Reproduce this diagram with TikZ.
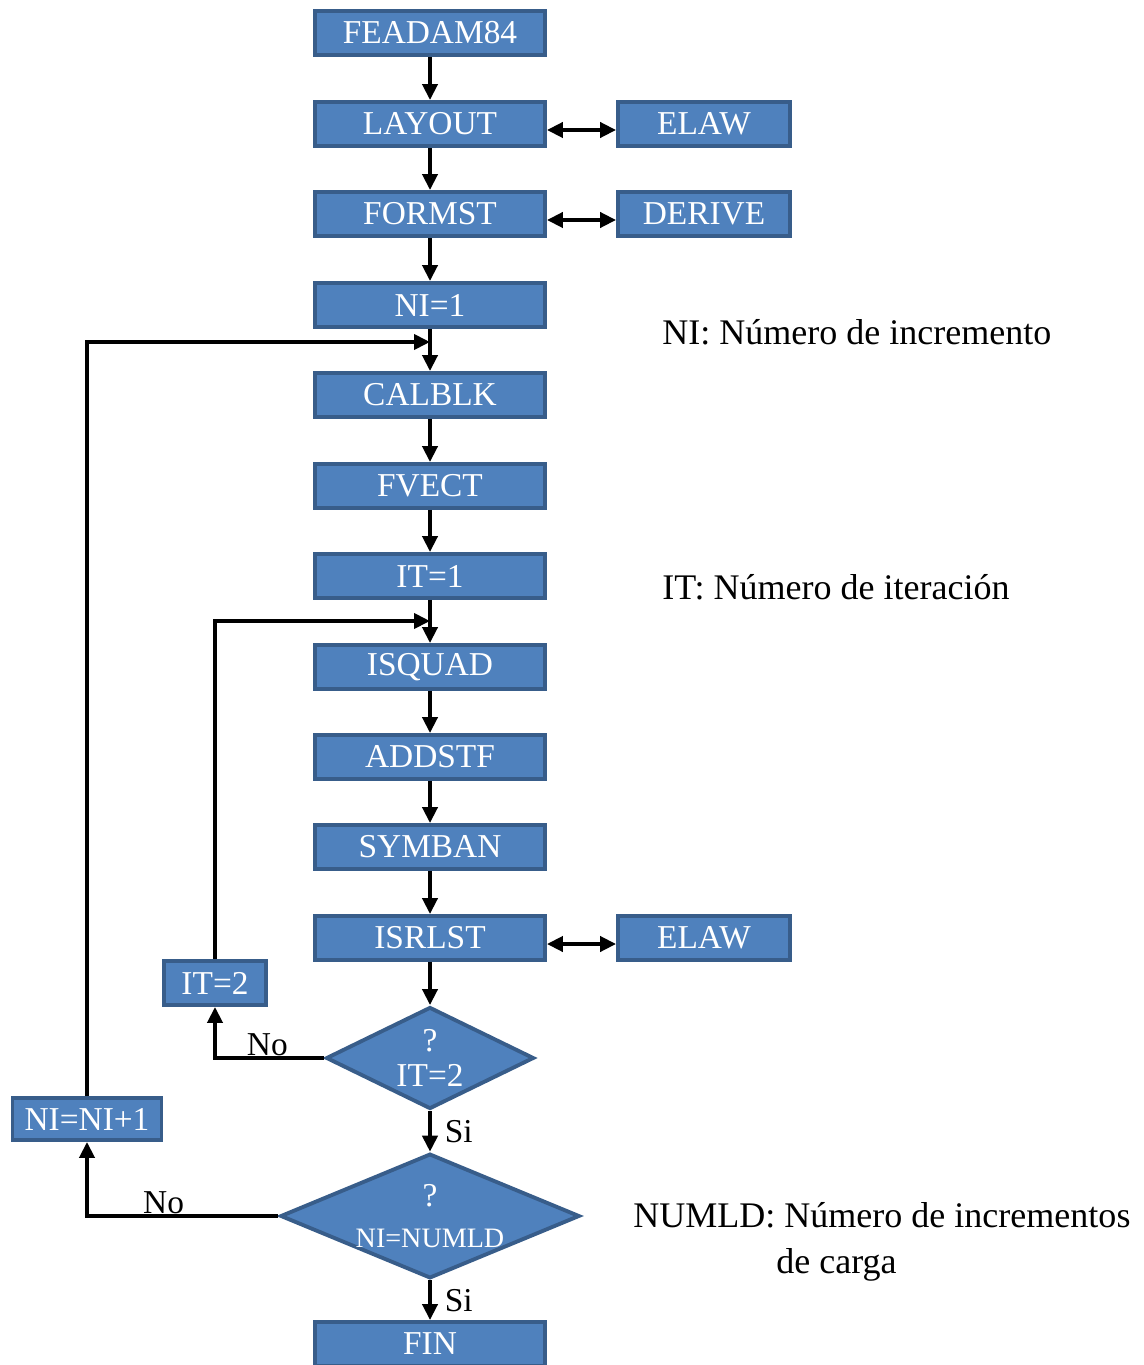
\documentclass[tikz,border=0pt]{standalone}
\usepackage{fontspec}
\setmainfont{Liberation Serif}
\usetikzlibrary{shapes.geometric, arrows.meta, calc, positioning}
\definecolor{bloque}{HTML}{4F81BD}
\definecolor{borde}{HTML}{385D8A}
\tikzset{
  % caja de una subrutina
  caja/.style={draw=borde, fill=bloque, line width=2.2pt, text=white, minimum width=4.6cm,
    minimum height=0.88cm, inner sep=0pt, font=\fontsize{19}{21}\selectfont},
  cajader/.style={caja, minimum width=3.44cm},
  % rombo de decision
  decision/.style={diamond, draw=borde, fill=bloque, line width=2.2pt, text=white, inner sep=0pt,
    align=center, font=\fontsize{19}{20}\selectfont},
  % flechas
  flecha/.style={-{Triangle[length=0.32cm,width=0.3cm]}, line width=2.2pt},
  doble/.style={{Triangle[length=0.32cm,width=0.3cm]}-{Triangle[length=0.32cm,width=0.3cm]}, line width=2.2pt},
  % textos
  nota/.style={font=\fontsize{20.5}{26}\selectfont, anchor=west, inner sep=0pt, align=left},
  rama/.style={font=\fontsize{19}{21}\selectfont},
}
\begin{document}
\begin{tikzpicture}[x=0.02cm, y=-0.02cm]
  \useasboundingbox (0,0) rectangle (1143,1365);
  % columna principal
  \node[caja] (feadam) at (430,33) {FEADAM84};
  \node[caja] (layout) at (430,124) {LAYOUT};
  \node[caja] (formst) at (430,214) {FORMST};
  \node[caja] (nini) at (430,305) {NI=1};
  \node[caja] (calblk) at (430,395) {CALBLK};
  \node[caja] (fvect) at (430,486) {FVECT};
  \node[caja] (itini) at (430,576) {IT=1};
  \node[caja] (isquad) at (430,667) {ISQUAD};
  \node[caja] (addstf) at (430,757) {ADDSTF};
  \node[caja] (symban) at (430,847) {SYMBAN};
  \node[caja] (isrlst) at (430,938) {ISRLST};
  \node[caja] (fin) at (430,1344) {FIN};
  % subrutinas auxiliares
  \node[cajader] (elawa) at (704,124) {ELAW};
  \node[cajader] (derive) at (704,214) {DERIVE};
  \node[cajader] (elawb) at (704,938) {ELAW};
  % decisiones
  \node[decision, aspect=2, minimum width=4.16cm, minimum height=2.04cm] (qit) at (430,1058) {?\\IT=2};
  \node[decision, aspect=2.4, minimum width=5.82cm, minimum height=2.36cm] (qni) at (430,1216)
    {?\\[3pt]{\fontsize{16}{18}\selectfont NI=NUMLD}};
  % contadores
  \node[caja, minimum width=2.04cm] (itdos) at (215,983) {IT=2};
  \node[caja, minimum width=2.98cm, minimum height=0.84cm] (ninc) at (87,1119) {NI=NI+1};
  % puntos de retorno
  \coordinate (niret) at (430,342);
  \coordinate (itret) at (430,621);
  % flujo
  \draw[flecha] (feadam) -- (layout);
  \draw[flecha] (layout) -- (formst);
  \draw[flecha] (formst) -- (nini);
  \draw[flecha] (nini) -- (calblk);
  \draw[flecha] (calblk) -- (fvect);
  \draw[flecha] (fvect) -- (itini);
  \draw[flecha] (itini) -- (isquad);
  \draw[flecha] (isquad) -- (addstf);
  \draw[flecha] (addstf) -- (symban);
  \draw[flecha] (symban) -- (isrlst);
  \draw[flecha] (isrlst) -- (qit);
  \draw[doble] ([yshift=-0.12cm]layout.east) -- ([yshift=-0.12cm]elawa.west);
  \draw[doble] ([yshift=-0.12cm]formst.east) -- ([yshift=-0.12cm]derive.west);
  \draw[doble] ([yshift=-0.12cm]isrlst.east) -- ([yshift=-0.12cm]elawb.west);
  \draw[flecha] (qit.west) -| node[pos=0.26, above, rama, inner sep=0pt] {No} (itdos.south);
  \draw[flecha] (itdos.north) |- (itret);
  \draw[flecha] (qit) -- node[right=4pt, rama] {Si} (qni);
  \draw[flecha] (qni.west) -| node[pos=0.3, above, rama, inner sep=0pt] {No} (ninc.south);
  \draw[flecha] (ninc.north) |- (niret);
  \draw[flecha] (qni) -- node[right=4pt, rama] {Si} (fin);
  % notas
  \node[nota] (notani) at (662,332) {NI: Número de incremento};
  \node[nota] (notait) at (662,587) {IT: Número de iteración};
  \node[nota] (notanumld) at (633,1242) {NUMLD: Número de incrementos\\\hspace*{2.86cm}de carga};
\end{tikzpicture}
\end{document}
